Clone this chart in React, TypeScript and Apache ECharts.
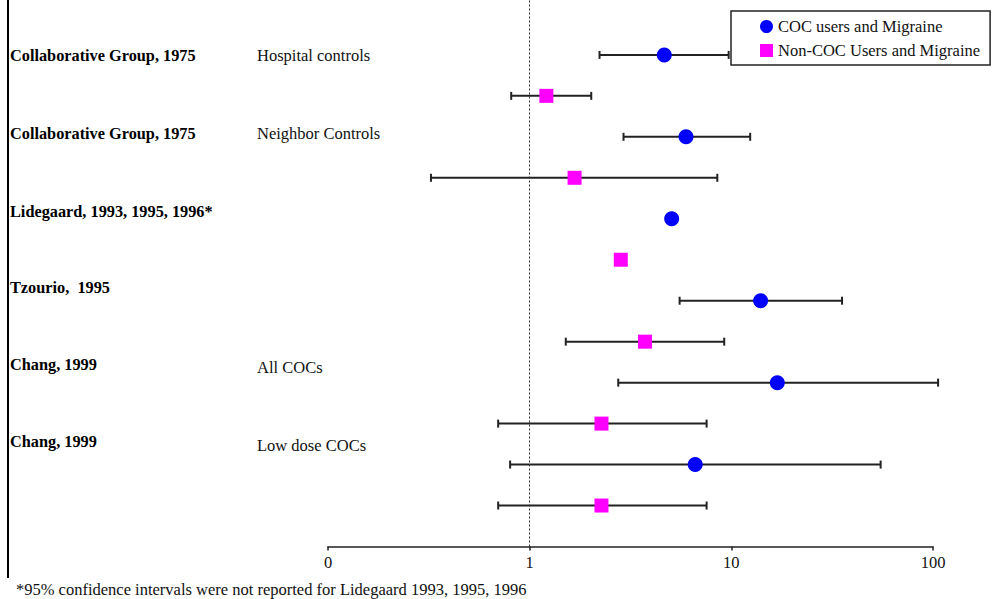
import React, { useEffect, useRef } from "react";
import * as echarts from "echarts";

// ---- data ----
const xTicks = [0.1, 1, 10, 100];
const xTickLabels = ["0", "1", "10", "100"];

const cocName = "COC users and Migraine";
const nonName = "Non-COC Users and Migraine";

const cocRows = [12, 10, 8, 6, 4, 2];
const cocEstimates = [4.65, 5.96, 5.06, 13.97, 16.9, 6.62];
const cocLower: (number | null)[] = [2.22, 2.92, null, 5.54, 2.75, 0.8];
const cocUpper: (number | null)[] = [9.7, 12.4, null, 35.4, 106, 55];

const nonRows = [11, 9, 7, 5, 3, 1];
const nonEstimates = [1.21, 1.67, 2.83, 3.73, 2.27, 2.27];
const nonLower: (number | null)[] = [0.81, 0.324, null, 1.51, 0.698, 0.698];
const nonUpper: (number | null)[] = [2.02, 8.52, null, 9.22, 7.54, 7.54];

const studyLabels = [
  "Collaborative Group, 1975",
  "Collaborative Group, 1975",
  "Lidegaard, 1993, 1995, 1996*",
  "Tzourio,  1995",
  "Chang, 1999",
  "Chang, 1999",
];
const subLabels = ["Hospital controls", "Neighbor Controls", "", "", "All COCs", "Low dose COCs"];
const footnote = "*95% confidence intervals were not reported for Lidegaard 1993, 1995, 1996";

// ---- layout (pixels) ----
const studyLabelY = [55, 133, 211, 287, 364, 441];
const subLabelY = [55, 133, 0, 0, 367, 445];

const SERIF = '"Liberation Serif", "Times New Roman", serif';

export default function App() {
  const ref = useRef<HTMLDivElement>(null);

  useEffect(() => {
    if (!ref.current) return;
    const chart = echarts.init(ref.current, undefined, { renderer: "svg" });

    const errData: number[][] = [];
    cocRows.forEach((r, i) => {
      if (cocLower[i] != null && cocUpper[i] != null) errData.push([cocLower[i] as number, cocUpper[i] as number, r]);
    });
    nonRows.forEach((r, i) => {
      if (nonLower[i] != null && nonUpper[i] != null) errData.push([nonLower[i] as number, nonUpper[i] as number, r]);
    });

    const graphics: any[] = [
      {
        type: "line",
        shape: { x1: 8, y1: 0, x2: 8, y2: 578 },
        style: { stroke: "#000", lineWidth: 2 },
      },
      {
        type: "text",
        x: 16,
        y: 589,
        style: { text: footnote, font: `16.5px ${SERIF}`, fill: "#111", verticalAlign: "middle" },
      },
    ];
    studyLabels.forEach((t, i) => {
      graphics.push({
        type: "text",
        x: 10,
        y: studyLabelY[i],
        style: { text: t, font: `bold 16.3px ${SERIF}`, fill: "#000", verticalAlign: "middle" },
      });
      if (subLabels[i]) {
        graphics.push({
          type: "text",
          x: 257,
          y: subLabelY[i],
          style: { text: subLabels[i], font: `16.5px ${SERIF}`, fill: "#111", verticalAlign: "middle" },
        });
      }
    });

    chart.setOption({
      animation: false,
      backgroundColor: "#fff",
      grid: { left: 328, right: 59, top: 0, bottom: 52.5, containLabel: false },
      xAxis: {
        type: "log",
        logBase: 10,
        min: 0.1,
        max: 100,
        axisLine: { show: true, lineStyle: { color: "#222", width: 1.5 } },
        axisTick: { show: true, length: 4, inside: false, lineStyle: { color: "#222", width: 1.5 } },
        minorTick: { show: false },
        splitLine: { show: false },
        axisLabel: {
          margin: 7,
          fontFamily: SERIF,
          fontSize: 16.5,
          color: "#111",
          formatter: (v: number) => {
            const idx = xTicks.findIndex((t) => Math.abs(Math.log10(t) - Math.log10(v)) < 1e-6);
            return idx >= 0 ? xTickLabels[idx] : "";
          },
        },
      },
      yAxis: {
        type: "value",
        min: 0,
        max: 13.34,
        show: false,
      },
      legend: {
        left: 731,
        top: 11,
        orient: "vertical",
        data: [
          { name: cocName, icon: "circle" },
          { name: nonName, icon: "rect" },
        ],
        itemWidth: 13,
        itemHeight: 13,
        itemGap: 7,
        itemTextGap: 5,
        padding: [7, 10, 6, 29],
        borderColor: "#222",
        borderWidth: 1.5,
        borderRadius: 0,
        backgroundColor: "#fff",
        textStyle: { fontFamily: SERIF, fontSize: 16.5, color: "#111" },
      },
      graphic: graphics,
      series: [
        {
          type: "custom",
          name: "ci",
          z: 1,
          clip: false,
          encode: { x: [0, 1], y: 2 },
          data: errData,
          renderItem: (params: any, api: any) => {
            const y = api.value(2);
            const p1 = api.coord([api.value(0), y]);
            const p2 = api.coord([api.value(1), y]);
            const h = 4;
            const st = { stroke: "#222", lineWidth: 2 };
            return {
              type: "group",
              children: [
                { type: "line", shape: { x1: p1[0], y1: p1[1], x2: p2[0], y2: p2[1] }, style: st },
                { type: "line", shape: { x1: p1[0], y1: p1[1] - h, x2: p1[0], y2: p1[1] + h }, style: st },
                { type: "line", shape: { x1: p2[0], y1: p2[1] - h, x2: p2[0], y2: p2[1] + h }, style: st },
              ],
            };
          },
        },
        {
          type: "scatter",
          name: cocName,
          z: 3,
          symbol: "circle",
          symbolSize: 15,
          itemStyle: { color: "#0000ff", opacity: 1 },
          data: cocRows.map((r, i) => [cocEstimates[i], r]),
          markLine: {
            silent: true,
            symbol: "none",
            label: { show: false },
            lineStyle: { type: [2, 2], color: "#333", width: 1 },
            data: [{ xAxis: 1 }],
          },
        },
        {
          type: "scatter",
          name: nonName,
          z: 3,
          symbol: "rect",
          symbolSize: 14,
          itemStyle: { color: "#ff00ff", opacity: 1 },
          data: nonRows.map((r, i) => [nonEstimates[i], r]),
        },
      ],
    });

    return () => chart.dispose();
  }, []);

  return <div ref={ref} style={{ width: 992, height: 599, position: "absolute", left: 0, top: 0 }} />;
}
